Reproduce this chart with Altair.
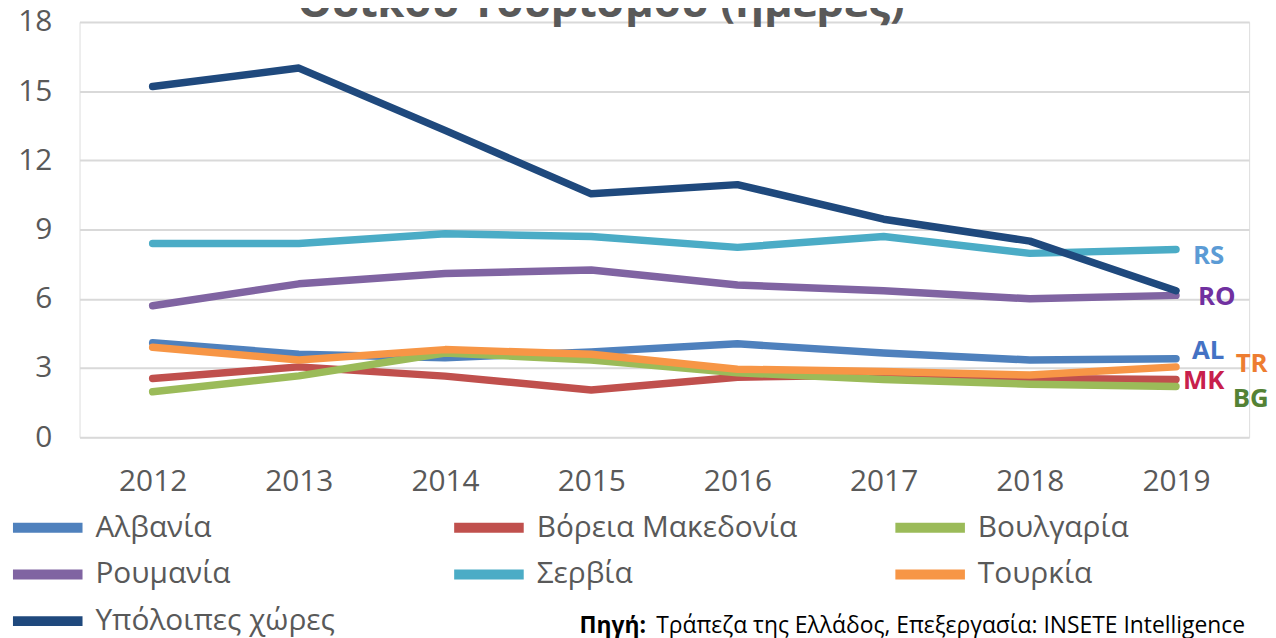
import altair as alt
import pandas as pd

years = ["2012", "2013", "2014", "2015", "2016", "2017", "2018", "2019"]
albania = [4.1, 3.6, 3.45, 3.7, 4.05, 3.65, 3.35, 3.4]
n_macedonia = [2.55, 3.05, 2.65, 2.05, 2.6, 2.7, 2.55, 2.5]
bulgaria = [1.97, 2.66, 3.65, 3.35, 2.8, 2.5, 2.3, 2.2]
romania = [5.7, 6.65, 7.1, 7.25, 6.6, 6.35, 6.0, 6.15]
serbia = [8.4, 8.4, 8.82, 8.7, 8.23, 8.7, 7.97, 8.14]
turkey = [3.9, 3.35, 3.8, 3.6, 2.95, 2.85, 2.7, 3.05]
others = [15.2, 16.0, 13.3, 10.55, 10.95, 9.45, 8.5, 6.35]

series_names = ["Αλβανία", "Βόρεια Μακεδονία", "Βουλγαρία", "Ρουμανία",
                "Σερβία", "Τουρκία", "Υπόλοιπες χώρες"]
series_values = [albania, n_macedonia, bulgaria, romania, serbia, turkey, others]
series_colors = ["#4F81BD", "#C0504D", "#9BBB59", "#8064A2",
                 "#4BACC6", "#F79646", "#1F497D"]

y_ticks = [0, 3, 6, 9, 12, 15, 18]

# end-of-line labels
label_codes = ["RS", "RO", "AL", "TR", "MK", "BG"]
label_series = [serbia, romania, albania, turkey, n_macedonia, bulgaria]
label_colors = ["#5B9BD5", "#7030A0", "#4472C4", "#ED7D31", "#C8204C", "#548235"]

title_text = "Οδικού Τουρισμού (ημέρες)"
source_bold = "Πηγή:"
source_text = "Τράπεζα της Ελλάδος, Επεξεργασία: INSETE Intelligence"

rows = []
for name, vals in zip(series_names, series_values):
    for yr, v in zip(years, vals):
        rows.append({"year": yr, "country": name, "days": v})
df = pd.DataFrame(rows)

FONT = "Open Sans"
W, H = 1177, 418

x_enc = alt.X("year:O", scale=alt.Scale(type="point", padding=0.5, domain=years),
              axis=alt.Axis(title=None, labelAngle=0, ticks=False, domain=False, grid=False,
                            labelFontSize=30, labelColor="#595959", labelPadding=30,
                            labelFont=FONT))
y_scale = alt.Scale(domain=[0, 18], nice=False)

lines = alt.Chart(df).mark_line(strokeWidth=7.5, strokeCap="round", strokeJoin="round").encode(
    x=x_enc,
    y=alt.Y("days:Q", scale=y_scale,
            axis=alt.Axis(values=y_ticks, title=None, ticks=False, domain=False,
                          gridColor="#D9D9D9", gridWidth=2, labelFontSize=30,
                          labelColor="#595959", labelPadding=28, labelFont=FONT)),
    color=alt.Color("country:N",
                    scale=alt.Scale(domain=series_names, range=series_colors),
                    legend=alt.Legend(title=None, orient="none", legendX=-72, legendY=489,
                                      direction="horizontal",
                                      columns=3, symbolType="stroke", symbolSize=4900,
                                      symbolStrokeWidth=10, labelFontSize=30,
                                      labelColor="#595959", labelFont=FONT,
                                      gridAlign="all", columnPadding=93, rowPadding=7,
                                      clipHeight=40,
                                      labelOffset=8, labelLimit=400)),
)

label_offsets = {"RS": (17, 7), "RO": (22, 2), "AL": (16, -8),
                 "TR": (60, -3), "MK": (7, 1), "BG": (57, 13)}
label_layers = []
for code, vals, col in zip(label_codes, label_series, label_colors):
    ldf = pd.DataFrame({"year": [years[-1]], "days": [vals[-1]], "code": [code]})
    dx, dy = label_offsets[code]
    label_layers.append(
        alt.Chart(ldf).mark_text(align="left", baseline="middle", fontSize=26,
                                 fontWeight="bold", font=FONT, color=col, dx=dx, dy=dy)
        .encode(x=alt.X("year:O", scale=alt.Scale(type="point", padding=0.5, domain=years)),
                y=alt.Y("days:Q", scale=y_scale), text="code:N")
    )

title_mark = alt.Chart(pd.DataFrame({"t": [title_text]})).mark_text(
    align="center", baseline="alphabetic", fontSize=44, fontWeight="bold",
    font=FONT, color="#595959").encode(text="t:N", x=alt.value(525), y=alt.value(-5))

src_b = alt.Chart(pd.DataFrame({"t": [source_bold]})).mark_text(
    align="right", baseline="middle", fontSize=23, fontWeight="bold",
    font=FONT, color="#000000").encode(text="t:N", x=alt.value(570), y=alt.value(608))
src_r = alt.Chart(pd.DataFrame({"t": [source_text]})).mark_text(
    align="right", baseline="middle", fontSize=23,
    font=FONT, color="#000000").encode(text="t:N", x=alt.value(1173), y=alt.value(608))

chart = alt.layer(lines, *label_layers, title_mark, src_b, src_r).properties(
    width=W, height=H,
    padding={"left": 72, "top": 12, "right": 19, "bottom": 202},
    autosize=alt.AutoSizeParams(type="none"),
).configure_view(stroke=None).configure(font=FONT)

chart.save("out.html", embed_options={"renderer": "svg", "actions": False})
